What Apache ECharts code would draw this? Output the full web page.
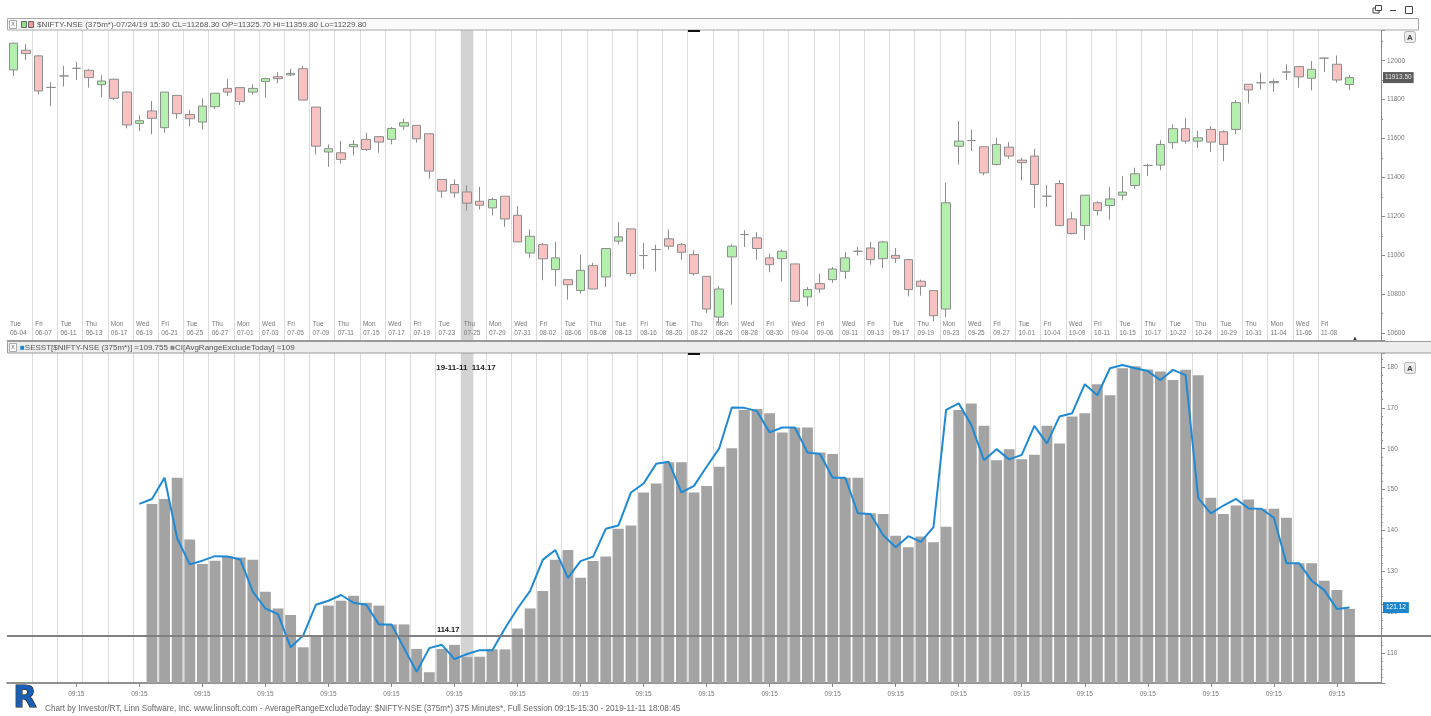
<!DOCTYPE html>
<html><head><meta charset="utf-8">
<script src="https://cdn.jsdelivr.net/npm/echarts@6/dist/echarts.min.js"></script>
<style>html,body{margin:0;padding:0;background:#fff}#c{width:1431px;height:716px}</style>
</head><body><div id="c"></div><script>
// ---------- data ----------
const dates = ['06-03','06-04','06-06','06-07','06-10','06-11','06-12','06-13','06-14','06-17','06-18','06-19','06-20','06-21','06-24','06-25','06-26','06-27','06-28',
'07-01','07-02','07-03','07-04','07-05','07-08','07-09','07-10','07-11','07-12','07-15','07-16','07-17','07-18','07-19','07-22','07-23','07-24','07-25','07-26','07-29','07-30','07-31',
'08-01','08-02','08-05','08-06','08-07','08-08','08-09','08-13','08-14','08-16','08-19','08-20','08-21','08-22','08-23','08-26','08-27','08-28','08-29','08-30',
'09-03','09-04','09-05','09-06','09-09','09-11','09-12','09-13','09-16','09-17','09-18','09-19','09-20','09-23','09-24','09-25','09-26','09-27','09-30',
'10-01','10-03','10-04','10-07','10-09','10-10','10-11','10-14','10-15','10-16','10-17','10-18','10-22','10-23','10-24','10-25','10-29','10-30','10-31',
'11-01','11-04','11-05','11-06','11-07','11-08','11-11'];

const tickLabels = ['Tue 06-04','Fri 06-07','Tue 06-11','Thu 06-13','Mon 06-17','Wed 06-19','Fri 06-21','Tue 06-25','Thu 06-27','Mon 07-01','Wed 07-03','Fri 07-05','Tue 07-09','Thu 07-11','Mon 07-15','Wed 07-17','Fri 07-19','Tue 07-23','Thu 07-25','Mon 07-29','Wed 07-31','Fri 08-02','Tue 08-06','Thu 08-08','Tue 08-13','Fri 08-16','Tue 08-20','Thu 08-22','Mon 08-26','Wed 08-28','Fri 08-30','Wed 09-04','Fri 09-06','Wed 09-11','Fri 09-13','Tue 09-17','Thu 09-19','Mon 09-23','Wed 09-25','Fri 09-27','Tue 10-01','Fri 10-04','Wed 10-09','Fri 10-11','Tue 10-15','Thu 10-17','Tue 10-22','Thu 10-24','Tue 10-29','Thu 10-31','Mon 11-04','Wed 11-06','Fri 11-08'];

const sessionLabel = '09:15';

// [open, close, low, high]
const candles = [
[11953,12090,11922,12093],[12054,12037,12004,12085],[12025,11845,11827,12030],[11863,11863,11767,11891],
[11922,11922,11867,11973],[11961,11961,11901,11994],[11951,11913,11862,11956],[11877,11896,11814,11925],
[11905,11807,11798,11908],[11839,11670,11652,11843],[11678,11692,11639,11719],[11742,11704,11622,11793],
[11656,11839,11630,11839],[11822,11728,11702,11822],[11724,11702,11664,11747],[11685,11767,11647,11807],
[11764,11833,11750,11833],[11858,11839,11819,11905],[11862,11790,11773,11862],[11839,11858,11827,11879],
[11893,11908,11810,11913],[11918,11908,11884,11942],[11927,11935,11922,11959],[11959,11798,11798,11973],
[11762,11561,11519,11762],[11531,11548,11455,11570],[11527,11493,11471,11587],[11558,11570,11513,11592],
[11596,11544,11536,11630],[11610,11582,11527,11613],[11596,11652,11570,11659],[11664,11682,11644,11702],
[11668,11599,11579,11668],[11625,11433,11393,11625],[11390,11330,11296,11390],[11364,11321,11296,11390],
[11325.7,11268.3,11229.8,11359.8],[11278,11258,11236,11352],[11244,11287,11205,11296],[11304,11187,11146,11304],
[11206,11069,11069,11253],[11012,11098,10987,11133],[11055,10982,10872,11064],[10927,10987,10841,11069],
[10875,10849,10772,10875],[10819,10923,10803,11004],[10947,10827,10827,10961],[10889,11035,10837,11038],
[11073,11095,11055,11170],[11136,10906,10892,11136],[10999,10999,10930,11064],[11030,11030,10918,11055],
[11085,11047,11030,11133],[11055,11016,10978,11064],[11004,10906,10896,11026],[10892,10724,10704,10892],
[10683,10827,10652,10841],[10992,11047,10747,11055],[11107,11107,11043,11129],[11090,11035,10978,11119],
[10987,10952,10913,11009],[10983,11021,10867,11030],[10956,10764,10764,10956],[10786,10824,10738,10837],
[10855,10827,10807,10906],[10875,10930,10858,10940],[10918,10987,10879,11016],[11021,11021,10999,11043],
[11038,10978,10952,11069],[10983,11069,10935,11072],[11000,10985,10961,11038],[10978,10824,10789,10982],
[10867,10841,10793,10875],[10819,10690,10661,10819],[10724,11270,10683,11373],[11561,11587,11467,11690],
[11590,11590,11536,11647],[11558,11424,11411,11558],[11467,11570,11462,11604],[11556,11510,11496,11582],
[11489,11476,11386,11501],[11510,11364,11244,11548],[11304,11304,11249,11361],[11369,11153,11153,11387],
[11187,11112,11107,11222],[11153,11309,11081,11309],[11270,11230,11205,11278],[11256,11290,11184,11350],
[11309,11325,11283,11407],[11359,11419,11342,11450],[11462,11462,11407,11471],[11464,11570,11438,11592],
[11579,11651,11548,11673],[11651,11587,11574,11707],[11587,11604,11553,11639],[11647,11582,11531,11664],
[11635,11570,11484,11642],[11647,11785,11622,11798],[11879,11850,11781,11879],[11887,11887,11853,11939],
[11887,11893,11841,11905],[11942,11942,11901,11982],[11970,11917,11862,11973],[11910,11956,11848,11999],
[12013,12013,11942,12016],[11982,11901,11887,12028],[11878,11913.5,11850,11927]];

const avgRange = [null,null,null,null,null,null,null,null,null,null,null,
146.5,147.7,152.9,137.8,131.8,132.6,133.6,133.4,132.8,125.0,
120.9,119.3,111.4,114.3,121.6,122.8,124.0,122.3,121.6,117.0,
117.0,111.0,105.3,111.0,112.0,109.0,109.1,110.9,110.9,116.0,
120.9,125.2,132.8,135.2,128.4,132.5,133.6,140.4,141.2,149.3,
151.5,156.7,156.7,149.3,150.9,155.6,160.1,169.5,169.7,168.7,
164.0,165.2,165.2,159.1,158.7,152.9,152.9,144.2,144.0,138.7,
135.9,138.5,137.1,140.9,169.5,171.1,165.6,157.2,159.9,157.4,
158.5,165.6,161.3,167.9,168.7,175.8,173.1,179.7,180.2,179.4,
178.9,176.8,179.3,178.0,148.0,144.0,146.1,147.6,145.3,145.3,
143.1,132.0,132.0,127.7,125.4,120.8];

const sesst = [null,null,null,null,null,null,null,null,null,null,
146.5,147.7,152.9,138.1,131.7,132.6,133.7,133.6,132.9,125.0,
120.9,119.5,111.4,114.3,121.8,122.8,124.2,122.3,121.8,117.0,
117.0,111.2,105.4,111.2,112.0,108.5,109.755,110.7,110.7,116.0,
120.9,125.2,132.8,135.2,128.4,132.5,133.6,140.4,141.2,149.3,
151.5,156.3,156.8,149.3,150.9,155.6,160.1,170.1,170.0,169.2,
164.0,165.2,165.2,159.1,158.7,152.9,152.9,144.2,144.0,138.9,
135.9,138.6,137.2,140.8,169.5,171.1,165.8,157.2,159.9,157.4,
158.5,165.6,161.3,167.9,168.7,175.8,173.1,179.7,180.5,179.7,
179.0,176.8,179.3,178.0,147.9,144.2,146.1,147.7,145.4,145.3,
143.1,132.0,132.0,127.7,125.4,120.8,121.12];

const refLevel = 114.17;
const hl = 36;            // crosshair bar (07/24/19)
// ---------- build ----------
const FONT = '"Liberation Sans", "DejaVu Sans", sans-serif';
const cats = dates.concat(['', ' ']);
const nCats = cats.length;
const isGrid = i => i > 0 && i % 2 === 0 && i <= 2 * (tickLabels.length - 1);
const isSession = i => i > 0 && i % 5 === 0 && i < dates.length;
const lastClose = candles[candles.length - 1][1];
const lastSesst = sesst[sesst.length - 1];
const hc = candles[hl];
const f2 = v => v.toFixed(2);
const headerText = '$NIFTY-NSE (375m*)-07/24/19 15:30 CL=' + f2(hc[1]) + ' OP=' + f2(hc[0]) + ' Hi=' + f2(hc[3]) + ' Lo=' + f2(hc[2]);
const isMult = (v, m) => Math.abs(v / m - Math.round(v / m)) < 1e-6;
const CLEAR = 'rgba(0,0,0,0)';

const chart = echarts.init(document.getElementById('c'));
const yAxisBase = (gi, min, max, mult, minorSplit) => ({
  type: 'value', gridIndex: gi, position: 'right', min: min, max: max, splitNumber: 8,
  axisLine: {show: true, onZero: false, lineStyle: {color: '#8a8a8a'}},
  axisTick: {show: true, inside: false, length: 4, lineStyle: {color: '#8a8a8a'}},
  minorTick: {show: true, splitNumber: minorSplit, length: 2, lineStyle: {color: '#8a8a8a'}},
  splitLine: {show: false},
  axisLabel: {fontSize: 6.5, color: '#777', margin: 6, fontFamily: FONT, showMinLabel: false, showMaxLabel: false,
    formatter: v => isMult(v, mult) ? String(Math.round(v)) : ''}
});
const option = {
  animation: false,
  backgroundColor: '#fff',
  grid: [
    {left: 7, width: 1374, top: 30, height: 310},
    {left: 7, width: 1374, top: 353, height: 330}
  ],
  xAxis: [
    {type: 'category', gridIndex: 0, data: cats, boundaryGap: true, position: 'bottom',
     axisLine: {show: true, onZero: false, lineStyle: {color: '#9a9a9a'}},
     axisTick: {show: false}, axisLabel: {show: false},
     splitLine: {show: true, interval: i => isGrid(i), lineStyle: {color: '#dcdcdc', width: 1}}},
    {type: 'value', gridIndex: 0, min: 0, max: nCats, interval: 2, position: 'bottom', z: 10,
     axisLine: {show: false, onZero: false}, axisTick: {show: false}, splitLine: {show: false},
     axisLabel: {inside: true, margin: 3, align: 'left', padding: [0, 0, 0, 3], fontSize: 6.5, lineHeight: 8.5,
       color: '#777', fontFamily: FONT, showMinLabel: true, showMaxLabel: false,
       formatter: v => { const k = v / 2; return (Number.isInteger(k) && k < tickLabels.length) ? tickLabels[k].replace(' ', '\n') : ''; }}},
    {type: 'category', gridIndex: 1, data: cats, boundaryGap: true, position: 'bottom',
     axisLine: {show: true, onZero: false, lineStyle: {color: '#6e6e6e', width: 1.5}},
     axisTick: {show: true, alignWithLabel: true, interval: i => isSession(i), length: 4, lineStyle: {color: '#888'}},
     axisLabel: {interval: i => isSession(i), formatter: () => sessionLabel, fontSize: 6.5, color: '#777', margin: 8, fontFamily: FONT},
     splitLine: {show: true, interval: i => isGrid(i), lineStyle: {color: '#dcdcdc', width: 1}}},
    {type: 'value', gridIndex: 1, min: 0, max: nCats, show: false,
     axisLine: {show: false, onZero: false}, axisTick: {show: false}, axisLabel: {show: false}, splitLine: {show: false}}
  ],
  yAxis: [
    yAxisBase(0, 10565, 12158, 200, 2),
    yAxisBase(1, 102.66, 183.43, 10, 5)
  ],
  series: [
    {type: 'line', xAxisIndex: 1, yAxisIndex: 0, data: [], silent: true, z: 1,
     markArea: {silent: true, itemStyle: {color: '#d3d3d3'}, data: [[{xAxis: hl}, {xAxis: hl + 1}]]}},
    {type: 'candlestick', xAxisIndex: 0, yAxisIndex: 0, data: candles, barWidth: '72%', z: 3,
     itemStyle: {color: '#b3f0ae', color0: '#f8c2c2', borderColor: '#8c8c8c', borderColor0: '#8c8c8c', borderColorDoji: '#8c8c8c', borderWidth: 1},
     markLine: {silent: true, symbol: 'none', lineStyle: {color: CLEAR, width: 1},
       label: {show: true, position: 'end', distance: 2, formatter: f2(lastClose), backgroundColor: '#5a5a5a', color: '#eeeeee',
         fontSize: 6.5, padding: [2, 2], fontFamily: FONT},
       data: [{yAxis: lastClose}]}},
    {type: 'line', xAxisIndex: 3, yAxisIndex: 1, data: [], silent: true, z: 1,
     markArea: {silent: true, itemStyle: {color: '#d3d3d3'}, data: [[{xAxis: hl}, {xAxis: hl + 1}]]},
     markPoint: {silent: true, symbol: 'circle', symbolSize: 0,
       label: {show: true, position: 'top', distance: 2, formatter: f2(refLevel), color: '#111', fontWeight: 'bold', fontSize: 7.5, fontFamily: FONT},
       data: [{coord: [hl - 1, refLevel]}]}},
    {type: 'bar', xAxisIndex: 2, yAxisIndex: 1, data: avgRange, barWidth: '86%', z: 2,
     itemStyle: {color: '#a3a3a3'},
     markLine: {silent: true, symbol: 'none', lineStyle: {color: '#808080', width: 2, type: 'solid'}, label: {show: false},
       data: [{yAxis: refLevel}]}},
    {type: 'line', xAxisIndex: 2, yAxisIndex: 1, data: sesst, symbol: 'none', showSymbol: false, z: 4,
     lineStyle: {color: '#1f8ad3', width: 2}, itemStyle: {color: '#1f8ad3'},
     markLine: {silent: true, symbol: 'none', lineStyle: {color: CLEAR, width: 1},
       label: {show: true, position: 'end', distance: 2, formatter: f2(lastSesst), backgroundColor: '#1e86cc', color: '#ffffff',
         fontSize: 6.5, padding: [2, 3], fontFamily: FONT},
       data: [{yAxis: lastSesst}]}}
  ]
};
chart.setOption(option);

// chrome / text decorations (after layout so the reference line can use the axis scale)
const refY = chart.convertToPixel({yAxisIndex: 1}, refLevel);
chart.setOption({graphic: [
    // window controls
    {type: 'rect', z: 100, shape: {x: 1373, y: 8, width: 6, height: 5}, style: {fill: '#fff', stroke: '#444', lineWidth: 1}},
    {type: 'rect', z: 100, shape: {x: 1375.5, y: 5.5, width: 6, height: 5}, style: {fill: '#fff', stroke: '#444', lineWidth: 1}},
    {type: 'line', z: 100, shape: {x1: 1390, y1: 10.5, x2: 1396, y2: 10.5}, style: {stroke: '#444', lineWidth: 1}},
    {type: 'rect', z: 100, shape: {x: 1405.5, y: 6.5, width: 7, height: 7}, style: {fill: '#fff', stroke: '#444', lineWidth: 1}},
    // top header
    {type: 'rect', z: 100, shape: {x: 7.5, y: 18.5, width: 1411, height: 11.5}, style: {fill: '#fafafa', stroke: '#a8a8a8', lineWidth: 1}},
    {type: 'rect', z: 100, shape: {x: 9.5, y: 20.5, width: 7, height: 8}, style: {fill: '#fff', stroke: '#aaa', lineWidth: 1}},
    {type: 'text', z: 101, style: {x: 13, y: 24.5, text: 'x', fontSize: 7, fontFamily: FONT, fill: '#777', align: 'center', verticalAlign: 'middle'}},
    {type: 'rect', z: 100, shape: {x: 21.5, y: 21.5, width: 5, height: 6}, style: {fill: '#8fe08a', stroke: '#666', lineWidth: 1}},
    {type: 'rect', z: 100, shape: {x: 28.5, y: 21.5, width: 5, height: 6}, style: {fill: '#f09a9a', stroke: '#666', lineWidth: 1}},
    {type: 'text', z: 101, style: {x: 37, y: 24.5, text: headerText, fontSize: 8, fontFamily: FONT, fill: '#555', verticalAlign: 'middle'}},
    {type: 'rect', z: 100, shape: {x: 688, y: 30, width: 12, height: 2}, style: {fill: '#111'}},
    // "A" buttons
    {type: 'rect', z: 100, shape: {x: 1404.5, y: 31.5, width: 11, height: 11, r: 2}, style: {fill: '#ececec', stroke: '#b5b5b5', lineWidth: 1}},
    {type: 'text', z: 101, style: {x: 1410, y: 37.5, text: 'A', fontSize: 8, fontWeight: 'bold', fontFamily: FONT, fill: '#444', align: 'center', verticalAlign: 'middle'}},
    // separator / lower header
    {type: 'rect', z: 100, shape: {x: 7.5, y: 341.5, width: 1424, height: 11.5}, style: {fill: '#ededed', stroke: '#9a9a9a', lineWidth: 1}},
    {type: 'rect', z: 100, shape: {x: 9.5, y: 343.5, width: 7, height: 8}, style: {fill: '#fff', stroke: '#aaa', lineWidth: 1}},
    {type: 'text', z: 101, style: {x: 13, y: 347.5, text: 'x', fontSize: 7, fontFamily: FONT, fill: '#777', align: 'center', verticalAlign: 'middle'}},
    {type: 'text', z: 101, style: {x: 20, y: 347.5, verticalAlign: 'middle', fontSize: 8, fontFamily: FONT, fill: '#555',
      text: '{b|■}SESST[$NIFTY-NSE (375m*)] =' + sesst[hl] + ' {g|■}CI[AvgRangeExcludeToday] =' + avgRange[hl],
      rich: {b: {fill: '#1e86cc', fontSize: 8}, g: {fill: '#888', fontSize: 8}}}},
    {type: 'text', z: 101, style: {x: 1355, y: 338, text: '▲', fontSize: 6, fontFamily: FONT, fill: '#333', align: 'center', verticalAlign: 'middle'}},
    {type: 'rect', z: 100, shape: {x: 688, y: 353, width: 12, height: 2}, style: {fill: '#111'}},
    {type: 'rect', z: 100, shape: {x: 1404.5, y: 362.5, width: 11, height: 11, r: 2}, style: {fill: '#ececec', stroke: '#b5b5b5', lineWidth: 1}},
    {type: 'text', z: 101, style: {x: 1410, y: 368.5, text: 'A', fontSize: 8, fontWeight: 'bold', fontFamily: FONT, fill: '#444', align: 'center', verticalAlign: 'middle'}},
    // reference line continues across the price scale
    {type: 'line', z: 100, shape: {x1: 1381, y1: refY, x2: 1431, y2: refY}, style: {stroke: '#808080', lineWidth: 2}},
    // crosshair readout
    {type: 'text', z: 101, style: {x: 466, y: 368, text: '19-11-11  ' + f2(refLevel), font: 'bold 8px "Liberation Sans", sans-serif', fill: '#222', align: 'center', verticalAlign: 'middle'}},
    // logo + footer
    {type: 'text', z: 101, style: {x: 25, y: 699, text: 'R', font: 'bold 30px "DejaVu Sans", sans-serif', fill: '#1b5fb5', stroke: '#111', lineWidth: 1.2, align: 'center', verticalAlign: 'middle'}},
    {type: 'text', z: 101, style: {x: 45, y: 708.5, verticalAlign: 'middle', fontSize: 8.2, fontFamily: FONT, fill: '#666',
      text: 'Chart by Investor/RT, Linn Software, Inc. www.linnsoft.com - AverageRangeExcludeToday: $NIFTY-NSE (375m*) 375 Minutes*, Full Session 09:15-15:30 - 2019-11-11 18:08:45'}}
]});
</script></body></html>
